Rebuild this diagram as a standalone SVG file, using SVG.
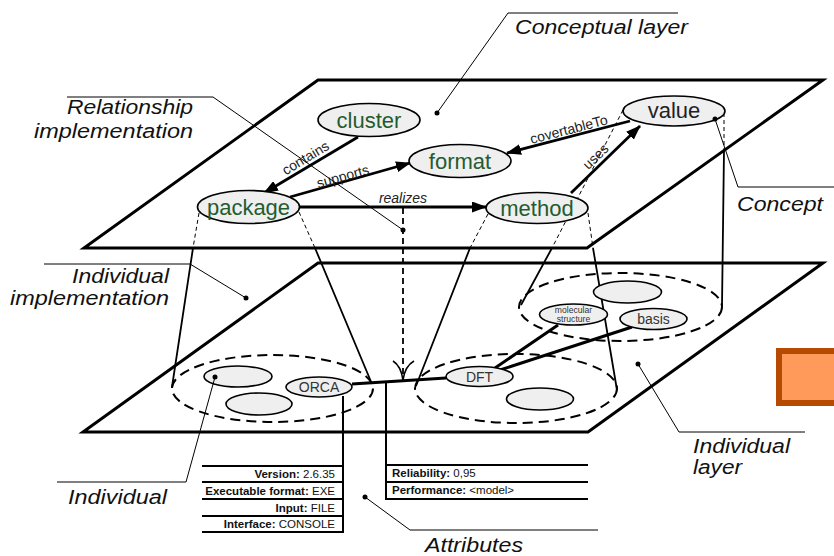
<svg xmlns="http://www.w3.org/2000/svg" width="834" height="556" viewBox="0 0 834 556">
  <style>
    .plane { fill: none; stroke: #000; stroke-width: 3; stroke-linejoin: miter; }
    .node { fill: #efefef; stroke: #000; stroke-width: 1.6; }
    .cname { font-family: "Liberation Sans", Arial, sans-serif; font-size: 22px; fill: #245c2f; text-anchor: middle; }
    .iname { font-family: "Liberation Sans", Arial, sans-serif; font-size: 14px; fill: #333; text-anchor: middle; }
    .small { font-size: 8.6px; }
    .group { fill: none; stroke: #000; stroke-width: 2; stroke-dasharray: 10 6; }
    .rel { fill: none; stroke: #000; stroke-width: 2.8; }
    .link { fill: none; stroke: #000; stroke-width: 3; }
    .proj { fill: none; stroke: #000; stroke-width: 1; stroke-dasharray: 4 3; }
    .cone { fill: none; stroke: #000; stroke-width: 1.8; }
    .lbl { font-family: "Liberation Sans", Arial, sans-serif; font-size: 14px; fill: #222; text-anchor: middle; }
    .note { font-family: "Liberation Sans", Arial, sans-serif; font-size: 20px; font-style: italic; fill: #111; }
    .lead { fill: none; stroke: #000; stroke-width: 1; }
    .dot { fill: #000; }
    .attr { fill: none; stroke: #000; stroke-width: 2; }
    .at { font-family: "Liberation Sans", Arial, sans-serif; font-size: 11.5px; fill: #111; }
    .at tspan.k { font-weight: bold; }
  </style>
  <defs>
    <marker id="arrow" markerUnits="userSpaceOnUse" markerWidth="15" markerHeight="11" refX="14" refY="5.5" orient="auto">
      <path d="M0,0 L15,5.5 L0,11 Z" fill="#000"/>
    </marker>
  </defs>

  <rect width="834" height="556" fill="#fff"/>

  <!-- layers -->
  <g id="conceptual-layer">
    <polygon class="plane" points="318,80 823,80 587,248 84,248"/>
  </g>
  <g id="individual-layer">
    <polygon class="plane" points="318,263 823,263 588,432 83,432"/>
  </g>

  <!-- individual groups -->
  <g id="groups">
    <ellipse class="group" cx="272.5" cy="388.5" rx="100.5" ry="33.5"/>
    <ellipse class="group" cx="516" cy="388.5" rx="101" ry="34.5"/>
    <ellipse class="group" cx="620.5" cy="307" rx="101.5" ry="34"/>
  </g>

  <!-- connectors -->
  <g id="connectors">
    <!-- projection cones from concepts to their individuals -->
    <path class="proj" d="M199,213 L193,248 M299,212 L315,248"/>
    <path class="cone" d="M193,248 L172,387 M315,248 L372,384"/>
    <path class="proj" d="M488,214 L470,248 M588,213 L593,248"/>
    <path class="cone" d="M470,248 L416,386 M593,248 L617,390"/>
    <path class="proj" d="M623,110 L552,248 M724,113 L724,150"/>
    <path class="cone" d="M552,248 L521,305 M724,150 L722,306"/>

    <!-- relationships between concepts -->
    <line class="rel" x1="358" y1="137" x2="264" y2="193" marker-end="url(#arrow)"/>
    <line class="rel" x1="290" y1="197" x2="410" y2="163" marker-end="url(#arrow)"/>
    <line class="rel" x1="299" y1="207" x2="486" y2="207" marker-end="url(#arrow)"/>
    <line class="rel" x1="630" y1="121" x2="507" y2="153" marker-end="url(#arrow)"/>
    <line class="rel" x1="571" y1="193" x2="640" y2="126" marker-end="url(#arrow)"/>

    <text class="lbl" transform="translate(308,162) rotate(-31)">contains</text>
    <text class="lbl" transform="translate(344,181) rotate(-15.5)">supports</text>
    <text class="lbl" x="403" y="203" font-style="italic">realizes</text>
    <text class="lbl" transform="translate(570,134) rotate(-14.6)">covertableTo</text>
    <text class="lbl" transform="translate(599,160) rotate(-44)">uses</text>

    <!-- realization of the relationship between individuals -->
    <line x1="403" y1="208" x2="403" y2="380" stroke="#000" stroke-width="1.8" stroke-dasharray="6 4"/>
    <path d="M393,361 Q401,366 403,380 Q405,366 414,361" fill="none" stroke="#000" stroke-width="1.6"/>

    <!-- links between individuals -->
    <line class="link" x1="352" y1="384" x2="446" y2="378"/>
    <line class="link" x1="495" y1="368" x2="558" y2="325"/>
    <line class="link" x1="500" y1="370" x2="632" y2="327"/>

    <!-- attribute stems -->
    <line class="attr" x1="343" y1="396" x2="343" y2="533"/>
    <line class="attr" x1="386" y1="381" x2="386" y2="500"/>
  </g>

  <!-- concepts -->
  <g id="cluster">
    <ellipse class="node" cx="369" cy="120" rx="51" ry="16.5"/>
    <text class="cname" x="369" y="128">cluster</text>
  </g>
  <g id="format">
    <ellipse class="node" cx="460" cy="161" rx="51" ry="16.5"/>
    <text class="cname" x="460" y="169">format</text>
  </g>
  <g id="value">
    <ellipse class="node" cx="674" cy="111" rx="51" ry="15"/>
    <text class="cname" x="674" y="118" style="fill:#222">value</text>
  </g>
  <g id="package">
    <ellipse class="node" cx="248.5" cy="207" rx="51" ry="16.5"/>
    <text class="cname" x="248.5" y="215">package</text>
  </g>
  <g id="method">
    <ellipse class="node" cx="537" cy="208" rx="51" ry="15.5"/>
    <text class="cname" x="537" y="216">method</text>
  </g>

  <!-- individuals -->
  <g id="individual-a">
    <ellipse class="node" cx="238" cy="376.5" rx="34" ry="10.5"/>
  </g>
  <g id="individual-b">
    <ellipse class="node" cx="259" cy="404" rx="33" ry="11"/>
  </g>
  <g id="orca">
    <ellipse class="node" cx="319" cy="387" rx="33" ry="10"/>
    <text class="iname" x="319" y="392">ORCA</text>
  </g>
  <g id="dft">
    <ellipse class="node" cx="479.5" cy="376.5" rx="33.5" ry="10"/>
    <text class="iname" x="479.5" y="381.5">DFT</text>
  </g>
  <g id="individual-c">
    <ellipse class="node" cx="540" cy="399" rx="33.5" ry="11"/>
  </g>
  <g id="individual-d">
    <ellipse class="node" cx="627.5" cy="292" rx="34" ry="11"/>
  </g>
  <g id="molecular-structure">
    <ellipse class="node" cx="573.5" cy="314.5" rx="34" ry="10.5"/>
    <text class="iname small" x="573.5" y="313">molecular</text>
    <text class="iname small" x="573.5" y="321.5">structure</text>
  </g>
  <g id="basis">
    <ellipse class="node" cx="653.5" cy="319" rx="33.5" ry="10.5"/>
    <text class="iname" x="653.5" y="324">basis</text>
  </g>

  <!-- attribute tables -->
  <g id="orca-attributes">
    <path class="attr" d="M202,466 H343 M202,482 H343 M202,499 H343 M202,516 H343 M202,532 H343"/>
    <text class="at" x="335" y="477.5" text-anchor="end"><tspan class="k">Version:</tspan> 2.6.35</text>
    <text class="at" x="335" y="494.5" text-anchor="end"><tspan class="k">Executable format:</tspan> EXE</text>
    <text class="at" x="335" y="511.5" text-anchor="end"><tspan class="k">Input:</tspan> FILE</text>
    <text class="at" x="335" y="527.5" text-anchor="end"><tspan class="k">Interface:</tspan> CONSOLE</text>
  </g>
  <g id="link-attributes">
    <path class="attr" d="M386,465 H588 M386,482 H588 M386,499 H588"/>
    <text class="at" x="392" y="477"><tspan class="k">Reliability:</tspan> 0,95</text>
    <text class="at" x="392" y="494"><tspan class="k">Performance:</tspan> &lt;model&gt;</text>
  </g>

  <!-- callouts -->
  <g id="callouts">
    <polyline class="lead" points="678,13 508,13 437,113"/>
    <circle class="dot" cx="437" cy="113" r="2.5"/>
    <text class="note" x="515" y="34" textLength="173" lengthAdjust="spacingAndGlyphs">Conceptual layer</text>

    <polyline class="lead" points="67,97 213,97 403,230"/>
    <circle class="dot" cx="403" cy="230" r="2.5"/>
    <text class="note" x="67" y="114" textLength="126" lengthAdjust="spacingAndGlyphs">Relationship</text>
    <text class="note" x="34" y="138" textLength="159" lengthAdjust="spacingAndGlyphs">implementation</text>

    <polyline class="lead" points="834,187 738,187 715,119"/>
    <circle class="dot" cx="715" cy="119" r="2.5"/>
    <text class="note" x="737" y="211" textLength="86" lengthAdjust="spacingAndGlyphs">Concept</text>

    <polyline class="lead" points="44,264 190,264 246,298"/>
    <circle class="dot" cx="246" cy="298" r="2.5"/>
    <text class="note" x="72" y="283" textLength="97" lengthAdjust="spacingAndGlyphs">Individual</text>
    <text class="note" x="10" y="305" textLength="159" lengthAdjust="spacingAndGlyphs">implementation</text>

    <polyline class="lead" points="57,482 186,482 215,377"/>
    <circle class="dot" cx="215" cy="377" r="2.5"/>
    <text class="note" x="68" y="504" textLength="99" lengthAdjust="spacingAndGlyphs">Individual</text>

    <polyline class="lead" points="598,530 410,530 365,497"/>
    <circle class="dot" cx="365" cy="497" r="2.5"/>
    <text class="note" x="425" y="552" textLength="98" lengthAdjust="spacingAndGlyphs">Attributes</text>

    <polyline class="lead" points="805,432 679,432 638,364"/>
    <circle class="dot" cx="638" cy="364" r="2.5"/>
    <text class="note" x="693" y="453" textLength="97" lengthAdjust="spacingAndGlyphs">Individual</text>
    <text class="note" x="693" y="474" textLength="49" lengthAdjust="spacingAndGlyphs">layer</text>
  </g>

  <!-- marker box at the right edge -->
  <g id="box">
    <rect x="779" y="351" width="70" height="52" fill="#ff9a5a" stroke="#b54a00" stroke-width="6"/>
  </g>
</svg>
